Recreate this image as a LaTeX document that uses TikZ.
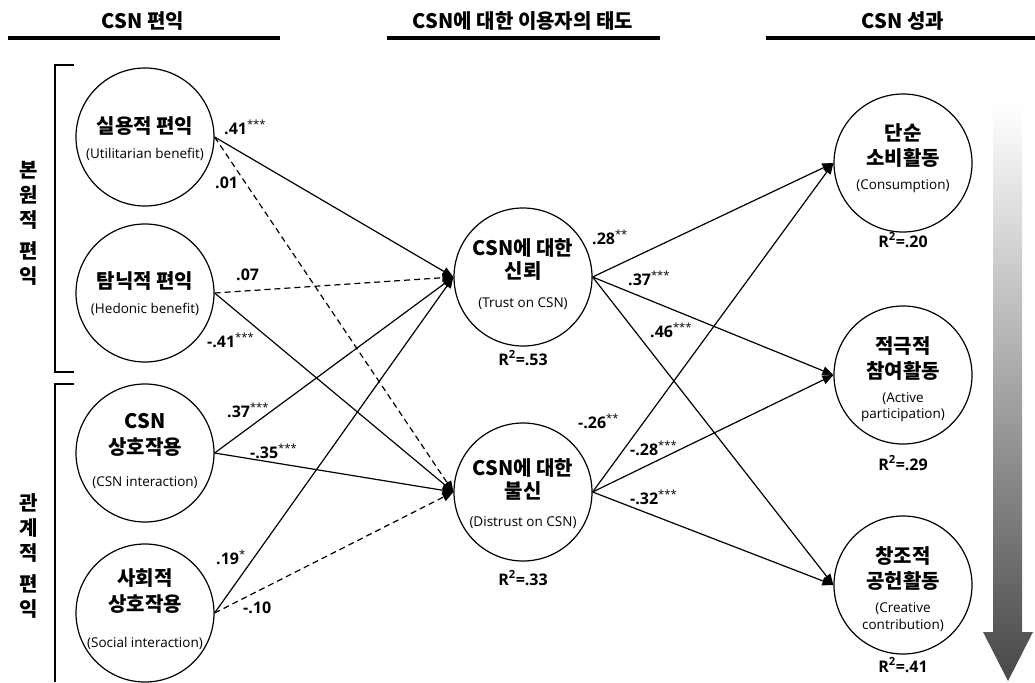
\documentclass[tikz,border=0pt]{standalone}
\usepackage{fontspec}
\setmainfont{Noto Sans CJK KR}
\newfontfamily\lat{Open Sans}
\usetikzlibrary{arrows.meta}
\begin{document}
\begin{tikzpicture}[x=1pt,y=-1pt,
  circ/.style={draw,circle,minimum size=138pt,inner sep=0pt,line width=1.2pt},
  kt/.style={font=\fontsize{20}{22}\selectfont\bfseries,inner sep=0pt},
  et/.style={font=\lat\fontsize{13.5}{15}\selectfont,inner sep=0pt},
  num/.style={font=\lat\fontsize{16}{18}\selectfont\bfseries,inner sep=0pt,anchor=west},
  rsq/.style={font=\lat\fontsize{16}{18}\selectfont\bfseries,inner sep=0pt},
  hdr/.style={font=\fontsize{20}{22}\selectfont\bfseries,inner sep=0pt},
  vlab/.style={font=\fontsize{20}{25}\selectfont\bfseries,align=center,inner sep=0pt},
  bar/.style={line width=4.5pt},
  brk/.style={line width=1.1pt},
  edge/.style={line width=1.2pt,-{Triangle[length=11pt,width=9pt]}},
  dedge/.style={edge,dash pattern=on 6pt off 4pt}
]
\useasboundingbox (0,0) rectangle (1035,682);
\newcommand\sg[1]{\textsuperscript{\mdseries #1}}
% headers
\node[hdr] (h1) at (143,21) {CSN 편익};
\node[hdr] (h2) at (523,21) {CSN에 대한 이용자의 태도};
\node[hdr] (h3) at (903,21) {CSN 성과};
\draw[bar] (8,38) -- (280,38);
\draw[bar] (387,38) -- (660,38);
\draw[bar] (766,38) -- (1035,38);
% brackets
\draw[brk] (74,65) -- (55,65) -- (55,372) -- (74,372);
\draw[brk] (74,384) -- (55,384) -- (55,682);
\node[vlab] (v1) at (29,223) {본\\원\\적\\[6pt]편\\익};
\node[vlab] (v2) at (29,556) {관\\계\\적\\[6pt]편\\익};
% left circles
\node[circ] (c1) at (145,137) {};
\node[kt] (c1a) at (145,126) {실용적 편익};
\node[et] (c1b) at (145,154) {(Utilitarian benefit)};
\node[circ] (c2) at (145,293) {};
\node[kt] (c2a) at (145,281) {탐닉적 편익};
\node[et] (c2b) at (145,309) {(Hedonic benefit)};
\node[circ] (c3) at (145,453) {};
\node[kt] (c3a) at (145,421) {CSN};
\node[kt] (c3b) at (145,447) {상호작용};
\node[et] (c3c) at (145,483) {(CSN interaction)};
\node[circ] (c4) at (145,613) {};
\node[kt] (c4a) at (145,578) {사회적};
\node[kt] (c4b) at (145,604) {상호작용};
\node[et] (c4c) at (145,643) {(Social interaction)};
% middle
\node[circ] (tr) at (523,277) {};
\node[kt] (tra) at (523,248) {CSN에 대한};
\node[kt] (trb) at (523,271) {신뢰};
\node[et] (trc) at (523,304) {(Trust on CSN)};
\node[rsq] (trr) at (523,358) {R\textsuperscript{2}=.53};
\node[circ] (ds) at (523,492) {};
\node[kt] (dsa) at (523,468) {CSN에 대한};
\node[kt] (dsb) at (523,491) {불신};
\node[et] (dsc) at (523,523) {(Distrust on CSN)};
\node[rsq] (dsr) at (523,578) {R\textsuperscript{2}=.33};
% right
\node[circ] (co) at (903,163) {};
\node[kt] (coa) at (903,133) {단순};
\node[kt] (cob) at (903,158) {소비활동};
\node[et] (coc) at (903,186) {(Consumption)};
\node[rsq] (cor) at (903,240) {R\textsuperscript{2}=.20};
\node[circ] (ac) at (903,375) {};
\node[kt] (aca) at (903,346) {적극적};
\node[kt] (acb) at (903,371) {참여활동};
\node[et] (acc) at (903,399) {(Active};
\node[et] (acd) at (903,415) {participation)};
\node[rsq] (acr) at (903,463) {R\textsuperscript{2}=.29};
\node[circ] (cr) at (903,585) {};
\node[kt] (cra) at (903,556) {창조적};
\node[kt] (crb) at (903,581) {공헌활동};
\node[et] (crc) at (903,609) {(Creative};
\node[et] (crd) at (903,625) {contribution)};
\node[rsq] (crr) at (903,665) {R\textsuperscript{2}=.41};
% gradient arrow
\shade[top color=white,bottom color=black!72]
  (993,105) -- (1022,105) -- (1022,632) -- (1033,632) -- (1008,681) -- (983,632) -- (993,632) -- cycle;
% edges left -> middle
\draw[edge] (c1.east) -- (tr.west);
\draw[dedge] (c1.east) -- (ds.west);
\draw[dedge] (c2.east) -- (tr.west);
\draw[edge] (c2.east) -- (ds.west);
\draw[edge] (c3.east) -- (tr.west);
\draw[edge] (c3.east) -- (ds.west);
\draw[edge] (c4.east) -- (tr.west);
\draw[dedge] (c4.east) -- (ds.west);
% edges middle -> right
\draw[edge] (tr.east) -- (co.west);
\draw[edge] (tr.east) -- (ac.west);
\draw[edge] (tr.east) -- (cr.west);
\draw[edge] (ds.east) -- (co.west);
\draw[edge] (ds.east) -- (ac.west);
\draw[edge] (ds.east) -- (cr.west);
% coefficient labels
\node[num] (l1) at (224,127) {.41\sg{***}};
\node[num] (l2) at (215,183) {.01};
\node[num] (l3) at (236,275) {.07};
\node[num] (l4) at (207,340) {-.41\sg{***}};
\node[num] (l5) at (227,410) {.37\sg{***}};
\node[num] (l6) at (250,451) {-.35\sg{***}};
\node[num] (l7) at (216,557) {.19\sg{*}};
\node[num] (l8) at (243,608) {-.10};
\node[num] (l9) at (592,237) {.28\sg{**}};
\node[num] (l10) at (628,278) {.37\sg{***}};
\node[num] (l11) at (650,330) {.46\sg{***}};
\node[num] (l12) at (578,421) {-.26\sg{**}};
\node[num] (l13) at (630,448) {-.28\sg{***}};
\node[num] (l14) at (630,497) {-.32\sg{***}};
\end{tikzpicture}
\end{document}
